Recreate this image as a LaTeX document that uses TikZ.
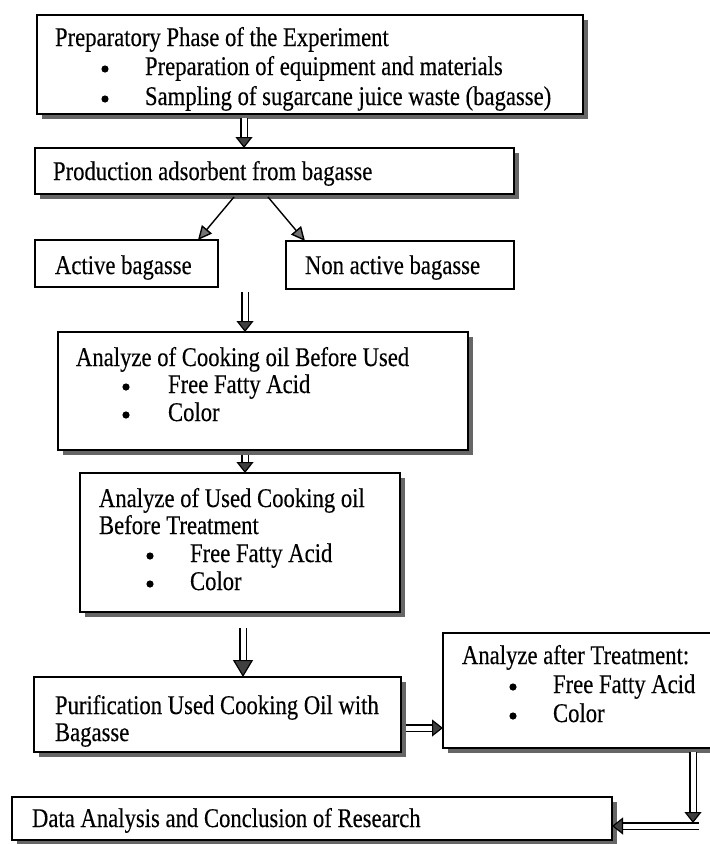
\documentclass[tikz,border=0pt]{standalone}
\usepackage{fontspec}
\setmainfont{Liberation Serif}[FakeStretch=0.84,FakeBold=0.3]
\usetikzlibrary{arrows.meta}
\newcommand\boxat[5]{%
  \pgfmathsetmacro\bxw{#4-#2}\pgfmathsetmacro\bxh{#5-#3}%
  \pgfmathsetmacro\bxx{(#2+#4)/2}\pgfmathsetmacro\bxy{(#3+#5)/2}%
  \node[boxst, minimum width=\bxw pt, minimum height=\bxh pt] (#1) at (\bxx,\bxy) {};}
\newcommand\shadowat[4]{\fill[shadowc] (#1+5,#2+5) rectangle (#3+5,#4+5);}
\newcommand\bul[2]{\fill (#1,#2-6) circle (3.6pt);}
\begin{document}
\begin{tikzpicture}[x=1pt,y=-1pt,
  every node/.style={font=\fontsize{27pt}{30pt}\selectfont},
  boxst/.style={draw=black, line width=1.6pt, fill=white, inner sep=0pt, outer sep=0pt},
  shadowc/.style={fill=black!60},
  lbl/.style={anchor=base west, inner sep=0pt, outer sep=0pt},
  dbl/.style={draw=black, double=white, double distance=5pt, line width=1.2pt,
    -{Triangle[length=11pt, width=17pt, fill=black!75]}},
  sgl/.style={draw=black, line width=1.4pt,
    -{Triangle[length=14pt, width=13pt, fill=black!55]}}]
\useasboundingbox (0,0) rectangle (710,844);
\fill[white] (0,0) rectangle (710,844);

% shadows
\shadowat{37}{15}{583}{114}
\shadowat{35}{148}{514}{194}
\shadowat{58}{332}{468}{450}
\shadowat{80}{473}{400}{612}
\shadowat{34}{677}{401}{752}
\shadowat{443}{633}{720}{748}
\shadowat{12}{797}{612}{840}

% boxes
\boxat{b1}{37}{15}{583}{114}
\boxat{b2}{35}{148}{514}{194}
\boxat{b3}{35}{240}{218}{287}
\boxat{b4}{286}{241}{514}{289}
\boxat{b5}{58}{332}{468}{450}
\boxat{b6}{80}{473}{400}{612}
\boxat{b7}{34}{677}{401}{752}
\boxat{b8}{443}{633}{720}{748}
\boxat{b9}{12}{797}{612}{840}

% texts
\node[lbl] (t1a) at (55,46) {Preparatory Phase of the Experiment};
\node[lbl] (t1b) at (145,75) {Preparation of equipment and materials};
\node[lbl] (t1c) at (145,105) {Sampling of sugarcane juice waste (bagasse)};
\bul{105}{75}\bul{105}{105}
\node[lbl] (t2) at (53,180) {Production adsorbent from bagasse};
\node[lbl] (t3) at (55,274) {Active bagasse};
\node[lbl] (t4) at (305,274) {Non active bagasse};
\node[lbl] (t5a) at (76,366) {Analyze of Cooking oil Before Used};
\node[lbl] (t5b) at (168,393) {Free Fatty Acid};
\node[lbl] (t5c) at (168,421) {Color};
\bul{126}{393}\bul{126}{421}
\node[lbl] (t6a) at (99,507) {Analyze of Used Cooking oil};
\node[lbl] (t6b) at (99,534) {Before Treatment};
\node[lbl] (t6c) at (190,562) {Free Fatty Acid};
\node[lbl] (t6d) at (190,590) {Color};
\bul{150}{562}\bul{150}{590}
\node[lbl] (t7a) at (55,714) {Purification Used Cooking Oil with};
\node[lbl] (t7b) at (55,741) {Bagasse};
\node[lbl] (t8a) at (462,664) {Analyze after Treatment:};
\node[lbl] (t8b) at (553,693) {Free Fatty Acid};
\node[lbl] (t8c) at (553,722) {Color};
\bul{513}{693}\bul{513}{722}
\node[lbl] (t9) at (32,827) {Data Analysis and Conclusion of Research};

% connectors
\coordinate (a4s) at (245,292);
\coordinate (a6s) at (243,628);
\coordinate (elb) at (693,823);
\coordinate (elc) at (699,826);
\draw[dbl] ([yshift=-4pt]b1.south -| 244,0) -- (b2.north -| 244,0);
\draw[sgl] ([yshift=-3pt]b2.south -| 234,0) -- (b3.north -| 198,0);
\draw[sgl] ([yshift=-3pt]b2.south -| 268,0) -- (b4.north -| 305,0);
\draw[dbl] (a4s) -- (b5.north -| 245,0);
\draw[dbl] ([yshift=-5pt]b5.south -| 245,0) -- (b6.north -| 245,0);
\draw[dbl, -{Triangle[length=17pt, width=20pt, fill=black!75]}] (a6s) -- (b7.north -| 243,0);
\draw[dbl] ([xshift=5pt]b7.east |- 0,728) -- (b8.west |- 0,728);
\draw[dbl] ([yshift=-4pt]b8.south -| 693,0) -- (elb);
\draw[dbl] (elc) -- (b9.east |- elc);
\end{tikzpicture}
\end{document}
